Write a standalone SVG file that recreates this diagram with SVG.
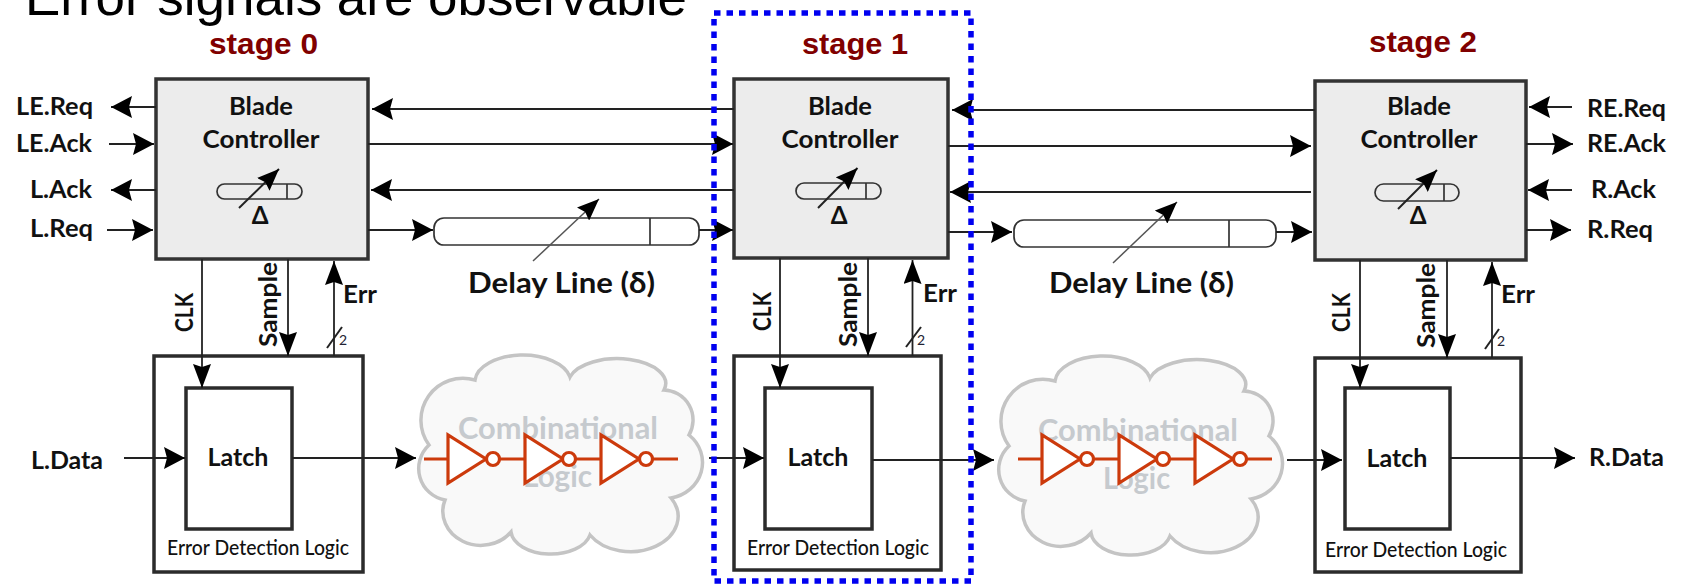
<svg xmlns="http://www.w3.org/2000/svg" xmlns:xlink="http://www.w3.org/1999/xlink" width="1683" height="584" viewBox="0 0 1683 584">
<style>
text{font-family:"Lato","Carlito","Open Sans",sans-serif;font-weight:700;fill:#111}
.title{font-family:"Liberation Sans",Arial,sans-serif;font-weight:400;font-size:52px;fill:#000}
.stage{font-family:"Liberation Sans",Arial,sans-serif;font-weight:700;font-size:30px;fill:#800000}
.lb{font-size:24px}
.mid{text-anchor:middle}
.dl{font-size:28px}
.edl{font-size:21px;font-weight:500}
.cb{font-size:30px;fill:#c6cace}
.ctl{fill:#ececec;stroke:#333;stroke-width:3.5}
.box{fill:#fff;stroke:#2b2b2b;stroke-width:3.5}
.pill{fill:none;stroke:#333;stroke-width:1.7}
.w{fill:none;stroke:#222;stroke-width:1.8}
.h{marker-end:url(#ah)}
.v{marker-end:url(#av)}
.tick{fill:none;stroke:#222;stroke-width:2}
.sm{fill:none;stroke:#222;stroke-width:2;marker-end:url(#as)}
.dg{fill:none;stroke:#555;stroke-width:1.5;marker-end:url(#as)}
.cloud{fill:#f9f9f9;stroke:#c4c4c4;stroke-width:3.5}
.inv{fill:#fff;stroke:#cc3a0c;stroke-width:3.2}
.invl{fill:none;stroke:#cc3a0c;stroke-width:3.2}
.two{font-size:14px;font-weight:400;fill:#223}
</style>
<defs>
<marker id="ah" markerUnits="userSpaceOnUse" markerWidth="22" markerHeight="22" refX="21" refY="11" orient="auto"><path d="M0 0L21 11L0 22L3 11z" fill="#000"/></marker>
<marker id="av" markerUnits="userSpaceOnUse" markerWidth="24" markerHeight="18" refX="24" refY="9" orient="auto"><path d="M0 0L24 9L0 18L3 9z" fill="#000"/></marker>
<marker id="as" markerUnits="userSpaceOnUse" markerWidth="22" markerHeight="18" refX="22" refY="9" orient="auto"><path d="M0 0L22 9L0 18L3 9z" fill="#000"/></marker>
<path id="cloudshape" d="M429 445A42 42 0 0 1 475 380A48 27 0 0 1 570 377A47 24 0 0 1 664 390A30 30 0 0 1 689 435A38 36 0 0 1 671 498A46 34 0 0 1 590 535A40 24 0 0 1 511 532A38 34 0 0 1 445 500A32 32 0 0 1 429 445z"/>
<g id="inverters">
<path class="invl" d="M424 459H448M499 459H525M575 459H601M652 459H678"/>
<path class="inv" d="M448 435V483L486 459z"/><circle class="inv" cx="493" cy="459" r="6.5"/>
<path class="inv" d="M525 435V483L563 459z"/><circle class="inv" cx="569" cy="459" r="6.5"/>
<path class="inv" d="M601 435V483L639 459z"/><circle class="inv" cx="646" cy="459" r="6.5"/>
</g>
</defs>

<text id="title" class="title" x="25" y="15" textLength="662" lengthAdjust="spacingAndGlyphs">Error signals are observable</text>
<text class="stage" x="209" y="54" textLength="109" lengthAdjust="spacingAndGlyphs">stage 0</text>
<text class="stage" x="802" y="54" textLength="106" lengthAdjust="spacingAndGlyphs">stage 1</text>
<text class="stage" x="1369" y="52" textLength="108" lengthAdjust="spacingAndGlyphs">stage 2</text>

<g id="cloud0">
<use href="#cloudshape" class="cloud"/>
<text class="cb" x="458" y="439" textLength="200" lengthAdjust="spacingAndGlyphs">Combinational</text>
<text class="cb" x="523" y="487" textLength="69" lengthAdjust="spacingAndGlyphs">Logic</text>
<use href="#inverters"/>
</g>
<g id="cloud1">
<use href="#cloudshape" class="cloud" transform="translate(580 1)"/>
<text class="cb" x="1038" y="441" textLength="200" lengthAdjust="spacingAndGlyphs">Combinational</text>
<text class="cb" x="1103" y="489" textLength="67" lengthAdjust="spacingAndGlyphs">Logic</text>
<use href="#inverters" transform="translate(594 0)"/>
</g>

<g id="stage0-edl"><rect class="box" x="154" y="356" width="209" height="216"/><text class="edl mid" x="258" y="555" textLength="182" lengthAdjust="spacingAndGlyphs">Error Detection Logic</text></g>
<g id="stage0-latch"><rect class="box" x="186" y="388" width="106" height="141"/><text class="lb mid" x="238" y="466" textLength="61" lengthAdjust="spacingAndGlyphs">Latch</text></g>
<g id="stage1-edl"><rect class="box" x="734" y="356" width="207" height="214"/><text class="edl mid" x="838" y="555" textLength="182" lengthAdjust="spacingAndGlyphs">Error Detection Logic</text></g>
<g id="stage1-latch"><rect class="box" x="765" y="388" width="107" height="141"/><text class="lb mid" x="818" y="466" textLength="61" lengthAdjust="spacingAndGlyphs">Latch</text></g>
<g id="stage2-edl"><rect class="box" x="1315" y="358" width="206" height="214"/><text class="edl mid" x="1416" y="557" textLength="182" lengthAdjust="spacingAndGlyphs">Error Detection Logic</text></g>
<g id="stage2-latch"><rect class="box" x="1345" y="388" width="105" height="141"/><text class="lb mid" x="1397" y="467" textLength="61" lengthAdjust="spacingAndGlyphs">Latch</text></g>

<g id="stage0-controller"><rect class="ctl" x="156" y="79" width="212" height="180"/>
<text class="lb mid" x="261" y="115" textLength="64" lengthAdjust="spacingAndGlyphs">Blade</text>
<text class="lb mid" x="261" y="148" textLength="117" lengthAdjust="spacingAndGlyphs">Controller</text>
<rect class="pill" x="217" y="184" width="85" height="15" rx="7.5"/><path class="pill" d="M287 184V199"/>
<path class="sm" d="M239 208L279 169"/><text class="lb mid" x="260" y="224">Δ</text></g>

<g id="stage1-controller"><rect class="ctl" x="734" y="79" width="214" height="179"/>
<text class="lb mid" x="840" y="115" textLength="64" lengthAdjust="spacingAndGlyphs">Blade</text>
<text class="lb mid" x="840" y="148" textLength="117" lengthAdjust="spacingAndGlyphs">Controller</text>
<rect class="pill" x="796" y="183" width="85" height="16" rx="8"/><path class="pill" d="M866 183V199"/>
<path class="sm" d="M818 208L857.500 168"/><text class="lb mid" x="839" y="224">Δ</text></g>

<g id="stage2-controller"><rect class="ctl" x="1315" y="81" width="211" height="179"/>
<text class="lb mid" x="1419" y="115" textLength="64" lengthAdjust="spacingAndGlyphs">Blade</text>
<text class="lb mid" x="1419" y="148" textLength="117" lengthAdjust="spacingAndGlyphs">Controller</text>
<rect class="pill" x="1375" y="184" width="84" height="17" rx="8.500"/><path class="pill" d="M1444 184V201"/>
<path class="sm" d="M1398 209L1437 170"/><text class="lb mid" x="1418" y="224">Δ</text></g>

<g id="delay0"><rect class="pill" x="434" y="218" width="265" height="27" rx="10" style="fill:#fff"/><path class="pill" d="M650 218V245"/><text class="dl" x="468" y="293" textLength="187" lengthAdjust="spacingAndGlyphs">Delay Line (δ)</text></g>
<g id="delay1"><rect class="pill" x="1014" y="220" width="262" height="27" rx="10" style="fill:#fff"/><path class="pill" d="M1229 220V247"/><text class="dl" x="1049" y="293" textLength="185" lengthAdjust="spacingAndGlyphs">Delay Line (δ)</text></g>

<g id="connectors">
<path class="w h" d="M156 107H111"/><path class="w h" d="M109 144H154"/><path class="w h" d="M156 190H111"/><path class="w h" d="M107 230H153"/>
<path class="w h" d="M734 109H372"/><path class="w h" d="M368 144H733"/><path class="w h" d="M734 190H371"/><path class="w h" d="M368 230H433"/><path class="w h" d="M699 230H733"/>
<path class="w h" d="M1315 110H952"/><path class="w h" d="M948 146H1311"/><path class="w h" d="M1311 192H950"/><path class="w h" d="M948 232H1012"/><path class="w h" d="M1276 232H1312"/>
<path class="w h" d="M1572 107H1529"/><path class="w h" d="M1526 144H1573"/><path class="w h" d="M1572 190H1528"/><path class="w h" d="M1526 230H1571"/>
<path class="dg" d="M533 261L599 199"/><path class="dg" d="M1113 263L1177 202"/>
<path class="w v" d="M202 259V388"/><path class="w v" d="M288 259V356"/><path class="w v" d="M334 356V261"/><path class="tick" d="M327 348L342 327"/>
<path class="w v" d="M780 258V388"/><path class="w v" d="M868 258V356"/><path class="w v" d="M912.500 356V260"/><path class="tick" d="M906 347L921 327"/>
<path class="w v" d="M1360 260V388"/><path class="w v" d="M1447 260V358"/><path class="w v" d="M1492 358V262"/><path class="tick" d="M1485 349L1499 329"/>
<path class="w h" d="M124 458H185"/><path class="w h" d="M292 458H416"/><path class="w h" d="M709 458H764"/><path class="w h" d="M872 460H994"/><path class="w h" d="M1287 460H1342"/><path class="w h" d="M1450 458H1575"/>
</g>

<g id="labels">
<text class="lb" x="16" y="115" textLength="77" lengthAdjust="spacingAndGlyphs">LE.Req</text>
<text class="lb" x="16" y="152" textLength="76" lengthAdjust="spacingAndGlyphs">LE.Ack</text>
<text class="lb" x="30" y="198" textLength="62" lengthAdjust="spacingAndGlyphs">L.Ack</text>
<text class="lb" x="30" y="237" textLength="63" lengthAdjust="spacingAndGlyphs">L.Req</text>
<text class="lb" x="1587" y="117" textLength="79" lengthAdjust="spacingAndGlyphs">RE.Req</text>
<text class="lb" x="1587" y="152" textLength="79" lengthAdjust="spacingAndGlyphs">RE.Ack</text>
<text class="lb" x="1591" y="198" textLength="65" lengthAdjust="spacingAndGlyphs">R.Ack</text>
<text class="lb" x="1587" y="238" textLength="66" lengthAdjust="spacingAndGlyphs">R.Req</text>
<text class="lb" x="31" y="469" textLength="72" lengthAdjust="spacingAndGlyphs">L.Data</text>
<text class="lb" x="1589" y="466" textLength="75" lengthAdjust="spacingAndGlyphs">R.Data</text>
<text class="lb" transform="translate(193 332) rotate(-90)" textLength="39" lengthAdjust="spacingAndGlyphs">CLK</text>
<text class="lb" transform="translate(277 347) rotate(-90)" textLength="85" lengthAdjust="spacingAndGlyphs">Sample</text>
<text class="lb" x="343" y="303" textLength="34" lengthAdjust="spacingAndGlyphs">Err</text>
<text class="two" x="339" y="345">2</text>
<text class="lb" transform="translate(771 331) rotate(-90)" textLength="39" lengthAdjust="spacingAndGlyphs">CLK</text>
<text class="lb" transform="translate(857 347) rotate(-90)" textLength="85" lengthAdjust="spacingAndGlyphs">Sample</text>
<text class="lb" x="923" y="302" textLength="34" lengthAdjust="spacingAndGlyphs">Err</text>
<text class="two" x="917" y="345">2</text>
<text class="lb" transform="translate(1350 332) rotate(-90)" textLength="39" lengthAdjust="spacingAndGlyphs">CLK</text>
<text class="lb" transform="translate(1435 348) rotate(-90)" textLength="85" lengthAdjust="spacingAndGlyphs">Sample</text>
<text class="lb" x="1501" y="303" textLength="34" lengthAdjust="spacingAndGlyphs">Err</text>
<text class="two" x="1497" y="346">2</text>
</g>

<rect id="selection" x="714" y="13" width="257" height="568" fill="none" stroke="#0000f0" stroke-width="5.500" stroke-dasharray="6.500 6"/>
</svg>
